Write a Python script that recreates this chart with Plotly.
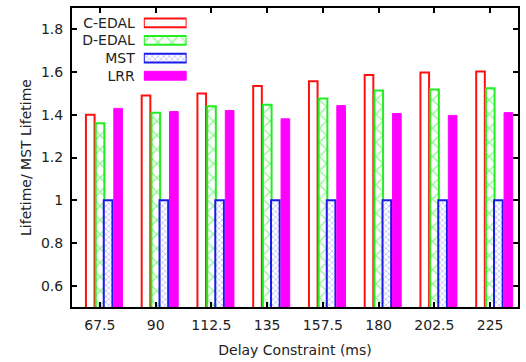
import plotly.graph_objects as go

delays = ["67.5", "90", "112.5", "135", "157.5", "180", "202.5", "225"]
c_edal = [1.40, 1.49, 1.50, 1.535, 1.557, 1.586, 1.598, 1.603]
d_edal = [1.36, 1.41, 1.44, 1.447, 1.476, 1.514, 1.518, 1.524]
mst = [1.0, 1.0, 1.0, 1.0, 1.0, 1.0, 1.0, 1.0]
lrr = [1.43, 1.415, 1.42, 1.381, 1.443, 1.406, 1.397, 1.41]
series_names = ["C-EDAL", "D-EDAL", "MST", "LRR"]

styles = {
    "C-EDAL": dict(color="white", line=dict(color="#ff1010", width=2)),
    "D-EDAL": dict(color="white", line=dict(color="#22ee22", width=2),
                   pattern=dict(shape="x", fgcolor="#22ee22", bgcolor="white", size=10, solidity=0.25)),
    "MST": dict(color="white", line=dict(color="#1a1aee", width=2),
                pattern=dict(shape="x", fgcolor="#6666ff", bgcolor="white", size=4, solidity=0.3)),
    "LRR": dict(color="#ff00ff", line=dict(color="#ff00ff", width=1)),
}
offsets = {"C-EDAL": -0.25, "D-EDAL": -0.075, "MST": 0.07, "LRR": 0.25}
width = 0.155

fig = go.Figure()
for name, vals in zip(series_names, [c_edal, d_edal, mst, lrr]):
    fig.add_trace(go.Bar(x=delays, y=vals, name=name, marker=styles[name],
                         offset=offsets[name], width=width, showlegend=False))

# custom legend: text to the left of the swatch
for name in series_names:
    fig.add_trace(go.Bar(x=[1], y=[name], orientation="h", marker=styles[name],
                         width=0.5, xaxis="x2", yaxis="y2", showlegend=False,
                         hoverinfo="skip"))

font = dict(family="DejaVu Sans", size=14, color="#222")
fig.update_layout(
    width=526, height=362,
    margin=dict(l=72, r=6, t=7, b=54),
    plot_bgcolor="white", paper_bgcolor="white",
    font=font,
    barmode="overlay",
    xaxis=dict(type="category", range=[-0.5, 7.5], showline=True, linecolor="black",
               linewidth=2, mirror="ticks", ticks="inside", ticklen=5, tickcolor="black",
               tickwidth=1.5, showgrid=False, zeroline=False,
               title=dict(text="Delay Constraint (ms)", standoff=13, font=dict(size=14)),
               ticklabelstandoff=4, tickfont=dict(size=14)),
    yaxis=dict(range=[0.5, 1.9], tickvals=[0.6, 0.8, 1.0, 1.2, 1.4, 1.6, 1.8],
               ticktext=["0.6", "0.8", "1", "1.2", "1.4", "1.6", "1.8"],
               showline=True, linecolor="black", linewidth=2, mirror="ticks",
               ticks="inside", ticklen=5, tickcolor="black", tickwidth=1.5,
               showgrid=False, zeroline=False,
               title=dict(text="Lifetime/ MST Lifetime", standoff=6, font=dict(size=14)),
               ticklabelstandoff=4, tickfont=dict(size=14)),
    xaxis2=dict(domain=[0.161, 0.257], range=[0, 1], anchor="y2", visible=False, fixedrange=True),
    yaxis2=dict(domain=[0.744, 0.980], range=[3.5, -0.5], anchor="x2", type="category",
                showline=False, showgrid=False, zeroline=False, ticks="",
                ticklabelstandoff=8, tickfont=dict(family="DejaVu Sans", size=14, color="#222")),
)
fig.write_html("out.html")
